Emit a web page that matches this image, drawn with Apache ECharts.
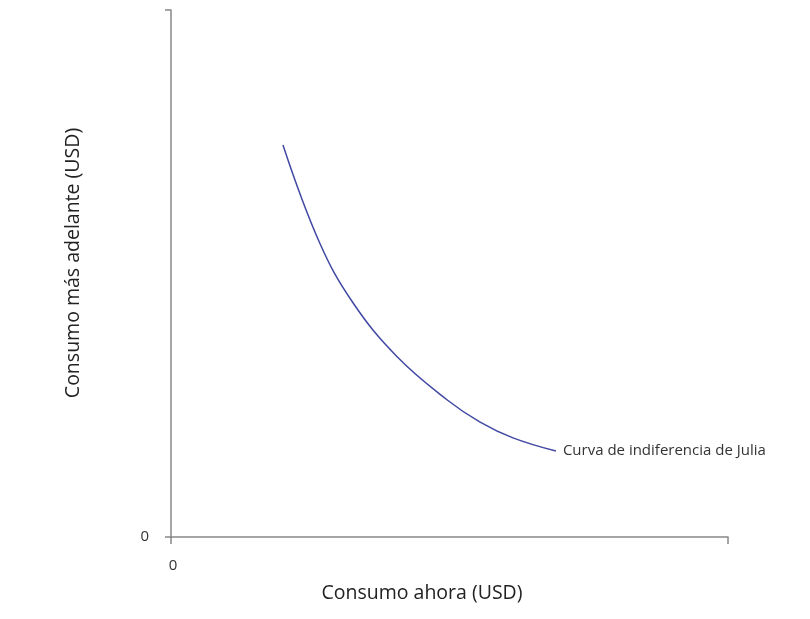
<!DOCTYPE html>
<html>
<head>
<meta charset="utf-8">
<script src="https://cdn.jsdelivr.net/npm/echarts@6/dist/echarts.min.js"></script>
<style>html,body{margin:0;padding:0;background:#fff}#c{width:810px;height:619px}</style>
</head>
<body>
<div id="c"></div>
<script>
const xValues = [2.01, 2.67, 3.27, 4.06, 4.96, 5.55, 6.14, 6.91];
const yValues = [7.44, 5.58, 4.44, 3.42, 2.60, 2.18, 1.88, 1.63];
const curveName = 'Curva de indiferencia de Julia';
const xTitle = 'Consumo ahora (USD)';
const yTitle = 'Consumo más adelante (USD)';
const tickLabels = ['0'];

const chart = echarts.init(document.getElementById('c'), null, {renderer: 'canvas'});
const font = '"Open Sans", "Noto Sans", sans-serif';
chart.setOption({
  animation: false,
  grid: {left: 171, right: 82, top: 10, bottom: 82, containLabel: false},
  xAxis: {
    type: 'value', min: 0, max: 10, interval: 10,
    name: xTitle, nameLocation: 'middle', nameGap: 46,
    nameTextStyle: {fontFamily: font, fontSize: 19.5, color: '#222', padding: [0, 55, 0, 0]},
    axisLine: {show: true, lineStyle: {color: '#888', width: 1.5}},
    axisTick: {show: true, length: 7, lineStyle: {color: '#888', width: 1.5}},
    axisLabel: {margin: 21, fontFamily: font, fontSize: 15, color: '#333', padding: [0, 0, 0, 4],
      formatter: v => (v === 0 ? tickLabels[0] : '')},
    splitLine: {show: false}
  },
  yAxis: {
    type: 'value', min: 0, max: 10, interval: 10,
    name: yTitle, nameLocation: 'middle', nameGap: 88,
    nameTextStyle: {fontFamily: font, fontSize: 19.5, color: '#222', padding: [0, 0, 0, 21]},
    axisLine: {show: true, lineStyle: {color: '#888', width: 1.5}},
    axisTick: {show: true, length: 6, lineStyle: {color: '#888', width: 1.5}},
    axisLabel: {margin: 22, fontFamily: font, fontSize: 15, color: '#333',
      formatter: v => (v === 0 ? tickLabels[0] : '')},
    splitLine: {show: false}
  },
  series: [{
    type: 'line',
    name: curveName,
    data: xValues.map((x, i) => [x, yValues[i]]),
    smooth: 0.4,
    showSymbol: false,
    lineStyle: {color: '#4149a3', width: 1.5},
    endLabel: {show: true, formatter: curveName, distance: 7,
      fontFamily: font, fontSize: 15, color: '#333'}
  }]
});
</script>
</body>
</html>
